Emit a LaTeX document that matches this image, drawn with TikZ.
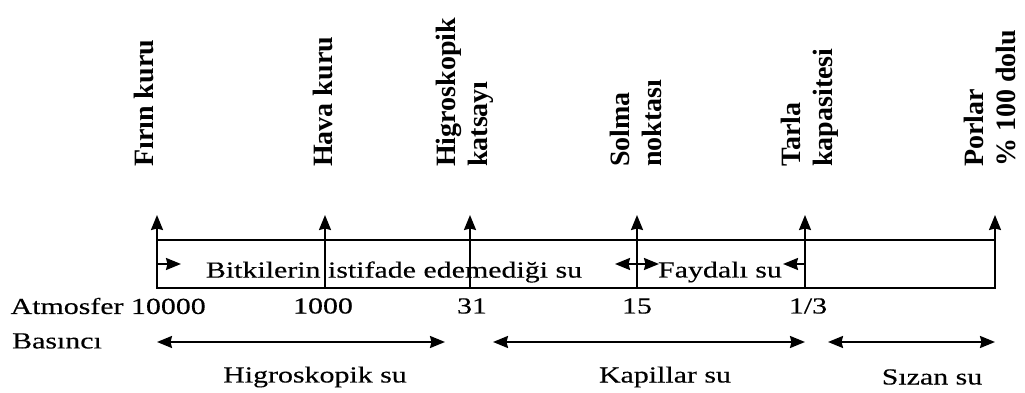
\documentclass[tikz,border=0pt]{standalone}
\usepackage{fontspec}
\setmainfont{Liberation Serif}
\newfontfamily\widefont{Liberation Serif}[FakeStretch=1.3, FakeBold=0.3]
\usepackage{tikz}
\usetikzlibrary{positioning, arrows.meta}
\tikzset{
	head/.tip={Stealth[length=15pt,width=12pt,inset=1.5pt]}, % filled heads
	bold line/.style={line width=2pt}, % lines of the drawing
	level/.style={font=\bfseries\fontsize{28}{32}\selectfont, rotate=90, anchor=west, align=left, inner sep=0pt}, % names over the levels
	plain/.style={font=\widefont\fontsize{23}{26}\selectfont, inner sep=0pt}, % all other text
}

\begin{document}
\begin{tikzpicture}[x=1pt,y=1pt]
	\useasboundingbox (0,0) rectangle (1025,393);
	% foot of each level line
	\coordinate (a1) at (157,105);
	\coordinate (a2) at (325,105);
	\coordinate (a3) at (470,105);
	\coordinate (a4) at (637,105);
	\coordinate (a5) at (805,105);
	\coordinate (a6) at (995,105);
	% arrow tips
	\coordinate[above=73pt of a1] (t1);
	\coordinate[above=73pt of a2] (t2);
	\coordinate[above=73pt of a3] (t3);
	\coordinate[above=73pt of a4] (t4);
	\coordinate[above=73pt of a5] (t5);
	\coordinate[above=73pt of a6] (t6);
	\coordinate[above=48pt of a6] (c6);
	\draw[bold line] (a1) rectangle (c6);
	\draw[bold line, -head] (a1) -- (t1);
	\draw[bold line, -head] (a2) -- (t2);
	\draw[bold line, -head] (a3) -- (t3);
	\draw[bold line, -head] (a4) -- (t4);
	\draw[bold line, -head] (a5) -- (t5);
	\draw[bold line, -head] (a6) -- (t6);
	% names of the levels
	\node[level] (firin) at (144,226) {Fırın kuru};
	\node[level] (hava) at (323,226) {Hava kuru};
	\node[level] (higro) at (465,226) {Higroskopik\\katsayı};
	\node[level] (solma) at (636,226) {Solma\\noktası};
	\node[level] (tarla) at (810,226) {Tarla\\kapasitesi};
	\node[level] (porlar) at (990,226) {Porlar\\\% 100 dolu};
	% short arrows in the band
	\coordinate[above=24pt of a1] (m1);
	\coordinate[right=24pt of m1] (m1r);
	\coordinate[above=24pt of a4] (m4);
	\coordinate[left=22pt of m4] (m4l);
	\coordinate[right=22pt of m4] (m4r);
	\coordinate[above=24pt of a5] (m5);
	\coordinate[left=22pt of m5] (m5l);
	\draw[bold line, -head] (m1) -- (m1r);
	\draw[bold line, -head] (m4) -- (m4l);
	\draw[bold line, -head] (m4) -- (m4r);
	\draw[bold line, -head] (m5) -- (m5l);
	\node[plain] (bitki) at (394,121) {Bitkilerin istifade edemediği su};
	\node[plain] (fayda) at (720,121) {Faydalı su};
	% pressure values
	\node[plain, anchor=east] (atm) at (206,87) {Atmosfer 10000};
	\node[plain] (v2) at (323,87) {1000};
	\node[plain] (v3) at (472,87) {31};
	\node[plain] (v4) at (637,87) {15};
	\node[plain] (v5) at (808,87) {1/3};
	\node[plain] (bas) at (57,52) {Basıncı};
	% kinds of water
	\coordinate (h1) at (157,51);
	\coordinate (h2) at (445,51);
	\coordinate (k1) at (493,51);
	\coordinate (k2) at (805,51);
	\coordinate (z1) at (828,51);
	\coordinate (z2) at (995,51);
	\draw[bold line, head-head] (h1) -- (h2);
	\draw[bold line, head-head] (k1) -- (k2);
	\draw[bold line, head-head] (z1) -- (z2);
	\node[plain] (higsu) at (315,16) {Higroskopik su};
	\node[plain] (kapsu) at (665,16) {Kapillar su};
	\node[plain] (sizsu) at (932,16) {Sızan su};
\end{tikzpicture}
\end{document}
